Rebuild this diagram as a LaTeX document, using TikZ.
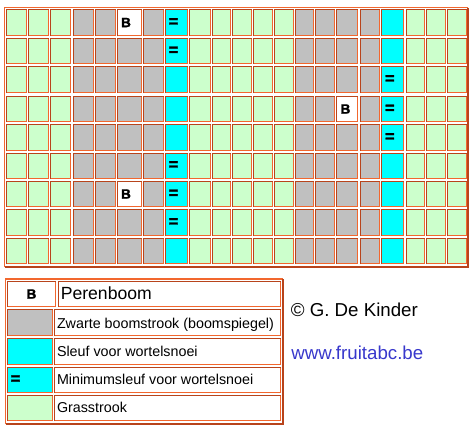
\documentclass[tikz,border=0pt]{standalone}
\usepackage{fontspec}
\setmainfont{Liberation Sans}
\newfontfamily\heavyfont[FakeBold=1.6]{Liberation Sans Bold}
\definecolor{grass}{HTML}{CCFFCC}
\definecolor{strip}{HTML}{C0C0C0}
\definecolor{trench}{HTML}{00FFFF}
\definecolor{bdark}{HTML}{B8441C}
\definecolor{blight}{HTML}{F2672E}
\definecolor{urlblue}{HTML}{3838CC}
\newcommand\gridcell[5]{%
  \fill[#5] (#1,#2) rectangle (#3,#4);
  \draw[bdark] (#1+0.5,#4) -- (#1+0.5,#2+0.5) -- (#3,#2+0.5);
  \draw[blight] (#1+1,#4-0.5) -- (#3-0.5,#4-0.5) -- (#3-0.5,#2+1);
}
\tikzset{
  lbl/.style={inner sep=0, anchor=base west, font=\fontsize{14.3}{16}\selectfont},
  bmark/.style={inner sep=0, font=\heavyfont\fontsize{13.5}{15}\selectfont},
  eqmark/.style={inner sep=0, font=\heavyfont\fontsize{16.5}{19}\selectfont},
  bigtext/.style={inner sep=0, anchor=base west, font=\fontsize{18.7}{21}\selectfont},
}
\begin{document}
\begin{tikzpicture}[x=1pt,y=-1pt,line width=1pt]
\fill[white] (0,0) rectangle (474,431);
\useasboundingbox (0,0) rectangle (474,431);
% main field
\draw[blight, line width=1.3pt] (4.6,267) -- (4.6,7.6) -- (468,7.6);
\draw[bdark, line width=1.3pt] (468,7.6) -- (468,267) -- (4.6,267);
\foreach \top/\bot in {9/36, 38/64, 66/93, 96/122, 124/151, 153/179, 181/207, 209/236, 238/264}{
  \foreach \lft/\rgt/\kind in {6/27/grass, 28/49/grass, 50/71/grass, 73/94/strip, 95/116/strip, 117/142/strip, 143/164/strip, 165/188/trench, 189/211/grass, 212/231/grass, 232/252/grass, 253/273/grass, 274/294/grass, 295/314/strip, 315/335/strip, 336/358/strip, 360/380/strip, 381/404/trench, 406/425/grass, 426/446/grass, 447/467/grass}{
    \gridcell{\lft}{\top}{\rgt}{\bot}{\kind}
  }
}
\gridcell{117}{9}{142}{36}{white}
\gridcell{336}{96}{358}{122}{white}
\gridcell{117}{181}{142}{207}{white}
\node[bmark] (tree1) at (126,22.5) {B};
\node[bmark] (tree2) at (345.5,109) {B};
\node[bmark] (tree3) at (126,194) {B};
\node[eqmark] (eq1) at (173.5,22.5) {=};
\node[eqmark] (eq2) at (173.5,51) {=};
\node[eqmark] (eq3) at (389.8,79.5) {=};
\node[eqmark] (eq4) at (389.8,109) {=};
\node[eqmark] (eq5) at (389.8,137.5) {=};
\node[eqmark] (eq6) at (173.5,165.5) {=};
\node[eqmark] (eq7) at (173.5,194) {=};
\node[eqmark] (eq8) at (173.5,222.5) {=};
% legend
\draw[blight, line width=1.3pt] (5.6,424) -- (5.6,279) -- (283,279);
\draw[bdark, line width=1.3pt] (283,279) -- (283,424) -- (5.6,424);
\gridcell{7}{281}{56}{307}{white}
\gridcell{58}{281}{281}{307}{white}
\gridcell{7}{309}{53}{336}{strip}
\gridcell{54}{309}{281}{336}{white}
\gridcell{7}{338}{53}{365}{trench}
\gridcell{54}{338}{281}{365}{white}
\gridcell{7}{367}{53}{393}{trench}
\gridcell{54}{367}{281}{393}{white}
\gridcell{7}{395}{53}{421}{grass}
\gridcell{54}{395}{281}{421}{white}
\node[bmark] (legb) at (31.5,294) {B};
\node[inner sep=0, anchor=base west, font=\fontsize{17.6}{20}\selectfont] (legpear) at (60.3,299.3) {Perenboom};
\node[lbl] (legstrip) at (56.5,328) {Zwarte boomstrook (boomspiegel)};
\node[lbl] (legtrench) at (56.5,356.3) {Sleuf voor wortelsnoei};
\node[eqmark] (legeq) at (15.5,379.7) {=};
\node[lbl] (legmin) at (56.5,384.8) {Minimumsleuf voor wortelsnoei};
\node[lbl] (leggrass) at (56.5,412.8) {Grasstrook};
% credits
\node[bigtext] (copy) at (290.3,316) {© G. De Kinder};
\node[bigtext, text=urlblue] (url) at (290.8,359) {www.fruitabc.be};
\end{tikzpicture}
\end{document}
